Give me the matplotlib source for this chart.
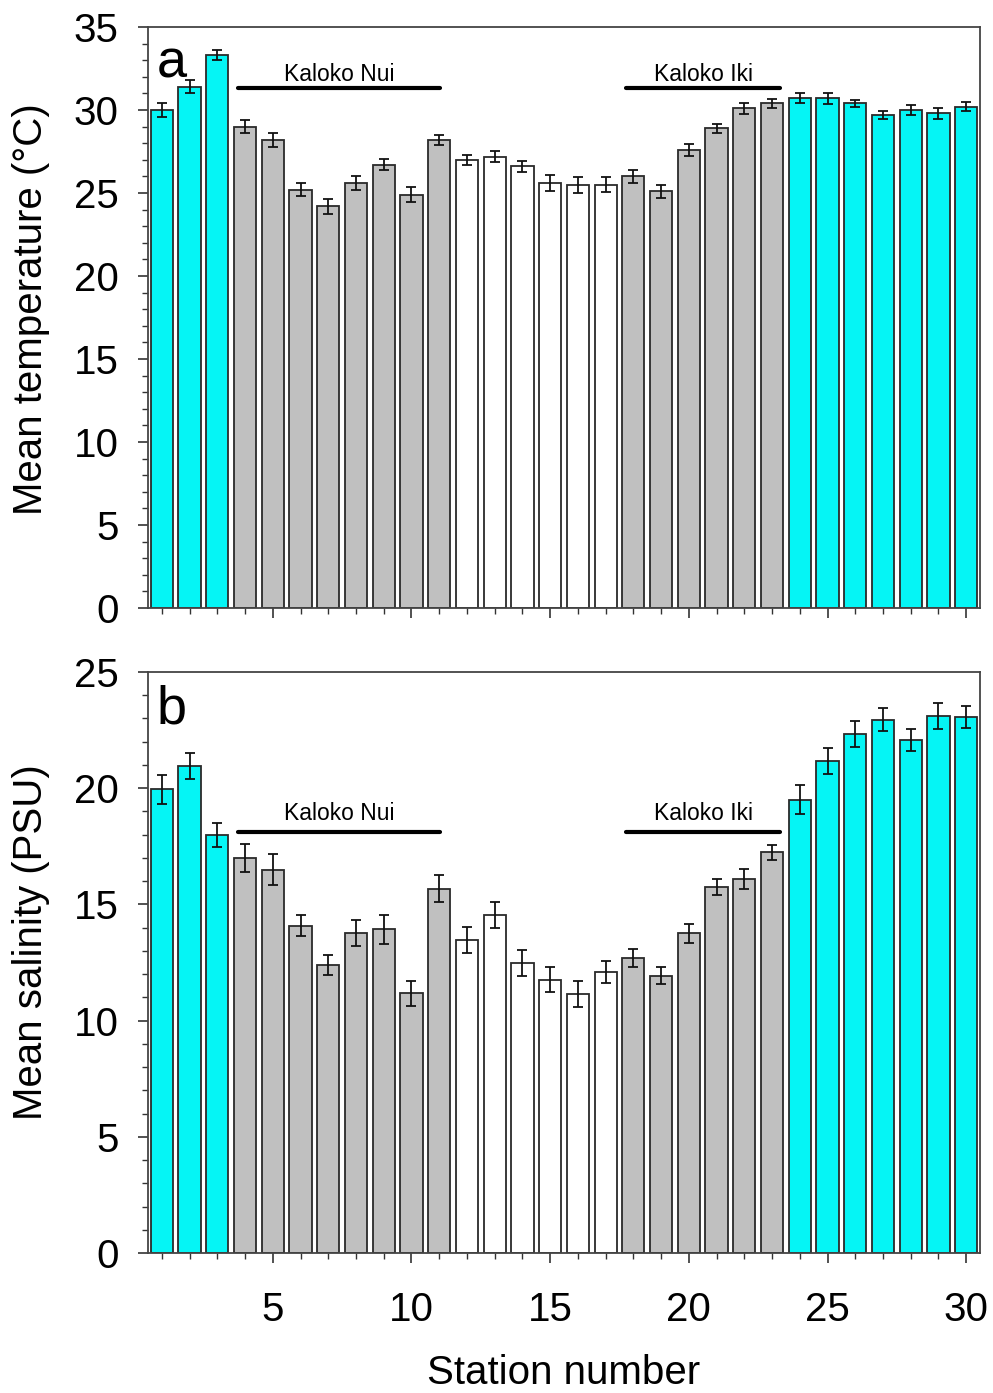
import numpy as np
import matplotlib.pyplot as plt
from matplotlib.ticker import MultipleLocator

plt.rcParams['font.family'] = ['Liberation Sans', 'DejaVu Sans']

stations = np.arange(1, 31)

temp_mean = [30.0, 31.4, 33.3, 29.0, 28.2, 25.2, 24.2, 25.6, 26.7, 24.9,
             28.2, 27.0, 27.2, 26.6, 25.6, 25.5, 25.5, 26.0, 25.1, 27.6,
             28.9, 30.1, 30.4, 30.7, 30.7, 30.4, 29.7, 30.0, 29.8, 30.2]
temp_err = [0.40, 0.40, 0.30, 0.40, 0.42, 0.40, 0.47, 0.44, 0.34, 0.45,
            0.30, 0.32, 0.32, 0.34, 0.48, 0.48, 0.44, 0.38, 0.40, 0.34,
            0.26, 0.34, 0.26, 0.30, 0.34, 0.22, 0.24, 0.28, 0.34, 0.28]

sal_mean = [19.95, 20.96, 18.0, 17.0, 16.5, 14.08, 12.4, 13.76, 13.93, 11.17,
            15.68, 13.47, 14.53, 12.47, 11.76, 11.16, 12.09, 12.7, 11.93, 13.76,
            15.74, 16.08, 17.24, 19.5, 21.17, 22.33, 22.95, 22.07, 23.09, 23.06]
sal_err = [0.61, 0.57, 0.52, 0.60, 0.67, 0.46, 0.42, 0.56, 0.62, 0.55,
           0.59, 0.56, 0.56, 0.55, 0.53, 0.56, 0.47, 0.39, 0.37, 0.40,
           0.34, 0.43, 0.33, 0.62, 0.57, 0.54, 0.48, 0.49, 0.56, 0.49]

# station groups: ocean (cyan), pond (gray), channel (white)
groups = ['c'] * 3 + ['g'] * 8 + ['w'] * 6 + ['g'] * 6 + ['c'] * 7
group_colors = {'c': '#05f5f5', 'g': '#c0c0c0', 'w': '#ffffff'}
colors = [group_colors[g] for g in groups]

# (label, start, end) of the bracket lines
ponds = [("Kaloko Nui", 3.75, 11.03), ("Kaloko Iki", 17.74, 23.3)]

fig = plt.figure(figsize=(9.93, 13.93), dpi=100)
ax1 = fig.add_axes([0.149, 0.5635, 0.838, 0.4171])
ax2 = fig.add_axes([0.149, 0.1005, 0.838, 0.4171])


def draw_panel(ax, means, errs, ymax, line_y, text_y, ylabel, label_y, letter, letter_y):
    ax.bar(stations, means, width=0.8, color=colors, edgecolor='#2a2a2a', linewidth=1.3,
           yerr=errs, error_kw=dict(ecolor='#111111', elinewidth=1.3, capsize=3.5, capthick=1.3),
           zorder=2)
    for name, x0, x1 in ponds:
        ax.plot([x0, x1], [line_y, line_y], color='black', lw=3, solid_capstyle='round')
        ax.text((x0 + x1) / 2, text_y, name, ha='center', va='center', fontsize=16.5)
    ax.text(0.01, letter_y, letter, transform=ax.transAxes, fontsize=39, va='baseline', ha='left')
    ax.set_xlim(0.5, 30.5)
    ax.set_ylim(0, ymax)
    ax.xaxis.set_major_locator(MultipleLocator(5))
    ax.xaxis.set_minor_locator(MultipleLocator(1))
    ax.yaxis.set_major_locator(MultipleLocator(5))
    ax.yaxis.set_minor_locator(MultipleLocator(1))
    ax.tick_params(which='major', direction='out', length=7, width=1.2, color='#333333',
                   labelsize=29, pad=14)
    ax.tick_params(which='minor', direction='out', length=4.5, width=1.0, color='#333333')
    ax.tick_params(axis='x', pad=20)
    for s in ax.spines.values():
        s.set_color('#444444')
        s.set_linewidth(1.3)
    ax.set_ylabel(ylabel, fontsize=29)
    ax.yaxis.set_label_coords(-0.118, label_y)


draw_panel(ax1, temp_mean, temp_err, 35, 31.35, 32.15, 'Mean temperature (°C)', 0.515, 'a', 0.913)
ax1.tick_params(axis='x', labelbottom=False)

draw_panel(ax2, sal_mean, sal_err, 25, 18.1, 18.9, 'Mean salinity (PSU)', 0.535, 'b', 0.912)
ax2.set_xlabel('Station number', fontsize=29, labelpad=18)

fig.savefig('out.png', dpi=100)
